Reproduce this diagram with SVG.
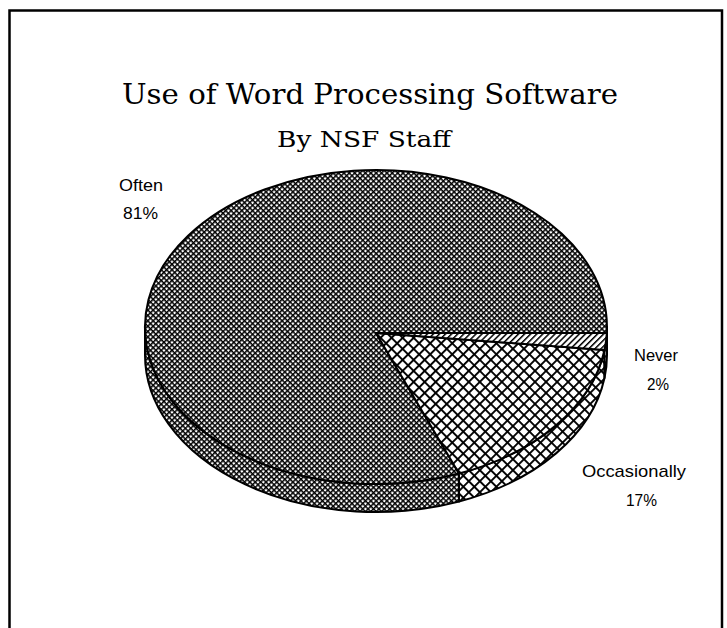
<svg xmlns="http://www.w3.org/2000/svg" width="727" height="628" viewBox="0 0 727 628">
  <style>
    .title { font-family: "DejaVu Serif", "Liberation Serif", serif; fill: #000; }
    .label { font-family: "Liberation Sans", "DejaVu Sans", sans-serif; font-size: 17px; fill: #000; }
    .edge { stroke: #000; stroke-width: 2; stroke-linejoin: round; }
    .often { fill: url(#fine); }
    .occ { fill: url(#coarse); }
    .never { fill: url(#diag); }
  </style>
  <defs>
    <!-- fine cross-hatch -->
    <pattern id="fine" width="3.8" height="3.8" patternUnits="userSpaceOnUse" patternTransform="rotate(45)">
      <rect width="3.8" height="3.8" fill="#fff"/>
      <rect width="3.8" height="1.5" fill="#000"/>
      <rect width="1.5" height="3.8" fill="#000"/>
    </pattern>
    <!-- coarse cross-hatch -->
    <pattern id="coarse" width="7.8" height="7.8" patternUnits="userSpaceOnUse" patternTransform="rotate(45)">
      <rect width="7.8" height="7.8" fill="#fff"/>
      <rect width="7.8" height="1.9" fill="#000"/>
      <rect width="1.9" height="7.8" fill="#000"/>
    </pattern>
    <!-- single diagonal hatch -->
    <pattern id="diag" width="4.3" height="4.3" patternUnits="userSpaceOnUse" patternTransform="rotate(45)">
      <rect width="4.3" height="4.3" fill="#fff"/>
      <rect width="1.5" height="4.3" fill="#000"/>
    </pattern>
  </defs>

  <rect width="727" height="628" fill="#fff"/>
  <!-- frame (open at the bottom) -->
  <path d="M9.5,628 V10.5 H722 V628" fill="none" stroke="#000" stroke-width="2.5"/>

  <g id="title">
    <text class="title" x="370" y="104" font-size="28" text-anchor="middle" textLength="496" lengthAdjust="spacingAndGlyphs">Use of Word Processing Software</text>
    <text class="title" x="364" y="147" font-size="23" text-anchor="middle" textLength="174" lengthAdjust="spacingAndGlyphs">By NSF Staff</text>
  </g>

  <!-- pie: rim ellipse centre (376,327), rx 231, ry 157, depth 28; apex (376,333) -->
  <g id="slice-often">
    <path class="often edge" d="M459,473.5 A231,157 0 0 1 145,327 L145,355 A231,157 0 0 0 459,501.5 Z"/>
    <path class="often edge" d="M376,333 L459,473.5 A231,157 0 1 1 606.8,333 Z"/>
  </g>
  <g id="slice-occasionally">
    <path class="occ edge" d="M604.5,350 A231,157 0 0 1 459,473.5 L459,501.5 A231,157 0 0 0 604.5,378 Z"/>
    <path class="occ edge" d="M376,333 L604.5,350 A231,157 0 0 1 459,473.5 Z"/>
  </g>
  <g id="slice-never">
    <path class="never edge" d="M607,327 A231,157 0 0 1 604.5,350 L604.5,378 A231,157 0 0 0 607,355 Z"/>
    <path class="never edge" d="M376,333 L606.8,333 A231,157 0 0 1 604.5,350 Z"/>
  </g>

  <g id="labels">
    <text class="label" x="119" y="191" textLength="44" lengthAdjust="spacingAndGlyphs">Often</text>
    <text class="label" x="123" y="219" textLength="35" lengthAdjust="spacingAndGlyphs">81%</text>
    <text class="label" x="634" y="361" textLength="44" lengthAdjust="spacingAndGlyphs">Never</text>
    <text class="label" x="647" y="390" textLength="22" lengthAdjust="spacingAndGlyphs">2%</text>
    <text class="label" x="582" y="477" textLength="104" lengthAdjust="spacingAndGlyphs">Occasionally</text>
    <text class="label" x="626" y="506" textLength="31" lengthAdjust="spacingAndGlyphs">17%</text>
  </g>
</svg>
